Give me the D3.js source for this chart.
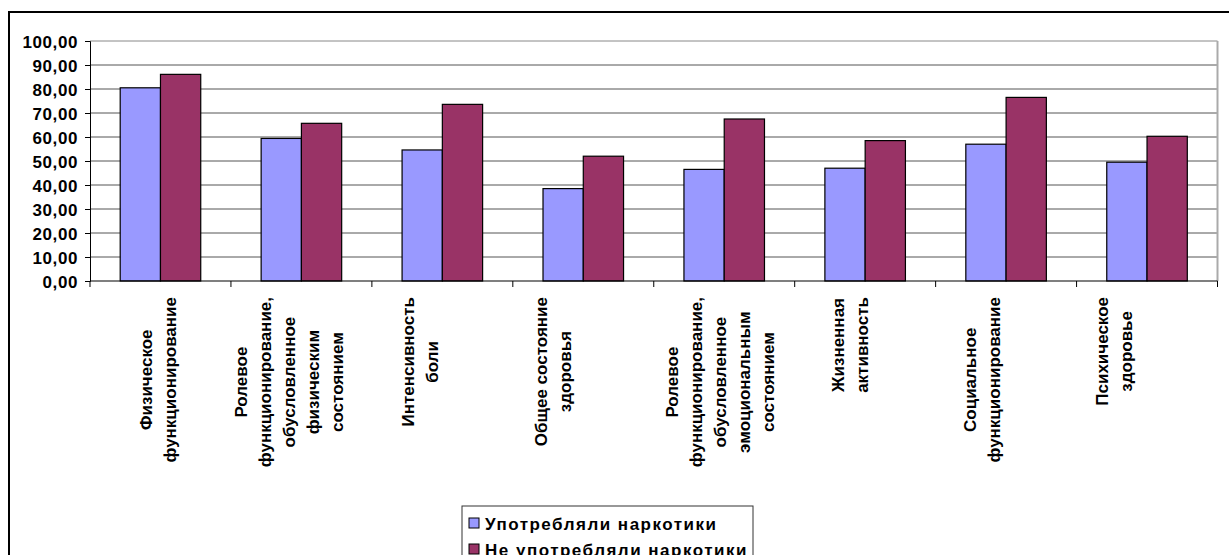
<!DOCTYPE html>
<html>
<head>
<meta charset="utf-8">
<script src="https://cdn.jsdelivr.net/npm/d3@7"></script>
<style>
  body { margin: 0; background: #fff; }
  svg text { font-family: "Liberation Sans", Arial, sans-serif; font-weight: bold; fill: #000; }
</style>
</head>
<body>
<div id="chart"></div>
<script>
// categories (each split into its printed lines)
const categories = [
  ["Физическое", "функционирование"],
  ["Ролевое", "функционирование,", "обусловленное", "физическим", "состоянием"],
  ["Интенсивность", "боли"],
  ["Общее состояние", "здоровья"],
  ["Ролевое", "функционирование,", "обусловленное", "эмоциональным", "состоянием"],
  ["Жизненная", "активность"],
  ["Социальное", "функционирование"],
  ["Психическое", "здоровье"]
];
const seriesNames = ["Употребляли наркотики", "Не употребляли наркотики"];
const usedDrugs = [80.5, 59.4, 54.6, 38.5, 46.5, 47.0, 57.0, 49.5];
const notUsedDrugs = [86.1, 65.7, 73.6, 52.0, 67.5, 58.5, 76.5, 60.3];
const yTicks = [0, 10, 20, 30, 40, 50, 60, 70, 80, 90, 100];

const W = 1229, H = 555;
const colors = ["#9999FF", "#993366"];
const plot = { left: 90, right: 1217.5, top: 41, bottom: 281 };
// label placement in the source drifts left of the band centre
const labelNudge = [-2.5, -12.5, -22.5, -30.5, -4.5, -15.5, -24, -33];

const svg = d3.select("#chart").append("svg")
  .attr("width", W).attr("height", H);

// outer chart border
svg.append("rect")
  .attr("x", 9).attr("y", 12)
  .attr("width", W + 10).attr("height", H + 10)
  .attr("fill", "none").attr("stroke", "#000").attr("stroke-width", 2);

const x = d3.scaleBand()
  .domain(d3.range(categories.length))
  .range([plot.left, plot.right])
  .paddingInner(0).paddingOuter(0);

const xs = d3.scaleBand()
  .domain([0, 1])
  .range([0, x.bandwidth()])
  .paddingInner(0).paddingOuter(0.75);

const y = d3.scaleLinear().domain([0, 100]).range([plot.bottom, plot.top]);

// gridlines
svg.append("g")
  .selectAll("line")
  .data(yTicks.filter(d => d > 0))
  .join("line")
  .attr("x1", plot.left).attr("x2", plot.right)
  .attr("y1", d => y(d)).attr("y2", d => y(d))
  .attr("stroke", d => d === 100 ? "#888" : "#555")
  .attr("stroke-width", 1);

// right border of plot area
svg.append("line")
  .attr("x1", plot.right).attr("x2", plot.right)
  .attr("y1", plot.top).attr("y2", plot.bottom)
  .attr("stroke", "#aaa").attr("stroke-width", 2);

// y axis
const yAxis = svg.append("g")
  .attr("transform", `translate(${plot.left},0)`)
  .call(d3.axisLeft(y).tickValues(yTicks).tickSize(5).tickPadding(7)
    .tickFormat(d => d3.format(".2f")(d).replace(".", ",")));
yAxis.select(".domain").attr("stroke", "#000");
yAxis.selectAll(".tick line").attr("stroke", "#000");
yAxis.selectAll(".tick text")
  .attr("font-size", 17).attr("letter-spacing", "0.6px")
  .attr("font-family", null).attr("dy", "0.36em");

// bars
const series = [usedDrugs, notUsedDrugs];
series.forEach((vals, s) => {
  svg.append("g")
    .selectAll("rect")
    .data(vals)
    .join("rect")
    .attr("x", (d, i) => x(i) + xs(s))
    .attr("y", d => y(d))
    .attr("width", xs.bandwidth())
    .attr("height", d => y(0) - y(d))
    .attr("fill", colors[s])
    .attr("stroke", "#000").attr("stroke-width", 1.2);
});

// x axis
const xAxis = svg.append("g")
  .attr("transform", `translate(0,${plot.bottom})`);
xAxis.append("line")
  .attr("x1", plot.left).attr("x2", plot.right)
  .attr("stroke", "#000").attr("stroke-width", 1.2);
xAxis.selectAll(".tk")
  .data(d3.range(categories.length + 1))
  .join("line")
  .attr("x1", i => i < categories.length ? x(i) : plot.right)
  .attr("x2", i => i < categories.length ? x(i) : plot.right)
  .attr("y1", 0).attr("y2", 6)
  .attr("stroke", "#000");

// category labels, rotated, lines centred on each other
const lineGap = 24;
categories.forEach((lines, i) => {
  const cx = x(i) + x.bandwidth() / 2 + labelNudge[i];
  const t = svg.append("text")
    .attr("font-size", 17)
    .attr("text-anchor", "middle");
  lines.forEach((ln, j) => {
    t.append("tspan")
      .attr("x", 0)
      .attr("y", (j - (lines.length - 1) / 2) * lineGap + 6)
      .text(ln);
  });
  const maxLen = d3.max(t.selectAll("tspan").nodes(), n => n.getComputedTextLength());
  const cy = 297 + maxLen / 2;
  t.attr("transform", `translate(${cx},${cy}) rotate(-90)`);
});

// legend
const lg = svg.append("g").attr("transform", "translate(462,506)");
lg.append("rect")
  .attr("width", 291).attr("height", 70)
  .attr("fill", "#fff").attr("stroke", "#333").attr("stroke-width", 1);
const items = lg.selectAll(".item")
  .data(seriesNames)
  .join("g")
  .attr("transform", (d, i) => `translate(7,${12 + i * 26})`);
items.append("rect")
  .attr("width", 10).attr("height", 10)
  .attr("fill", (d, i) => colors[i])
  .attr("stroke", "#000").attr("stroke-width", 1);
items.append("text")
  .attr("x", 16).attr("y", 12)
  .attr("font-size", 17).attr("letter-spacing", "1.5px")
  .text(d => d);
</script>
</body>
</html>
